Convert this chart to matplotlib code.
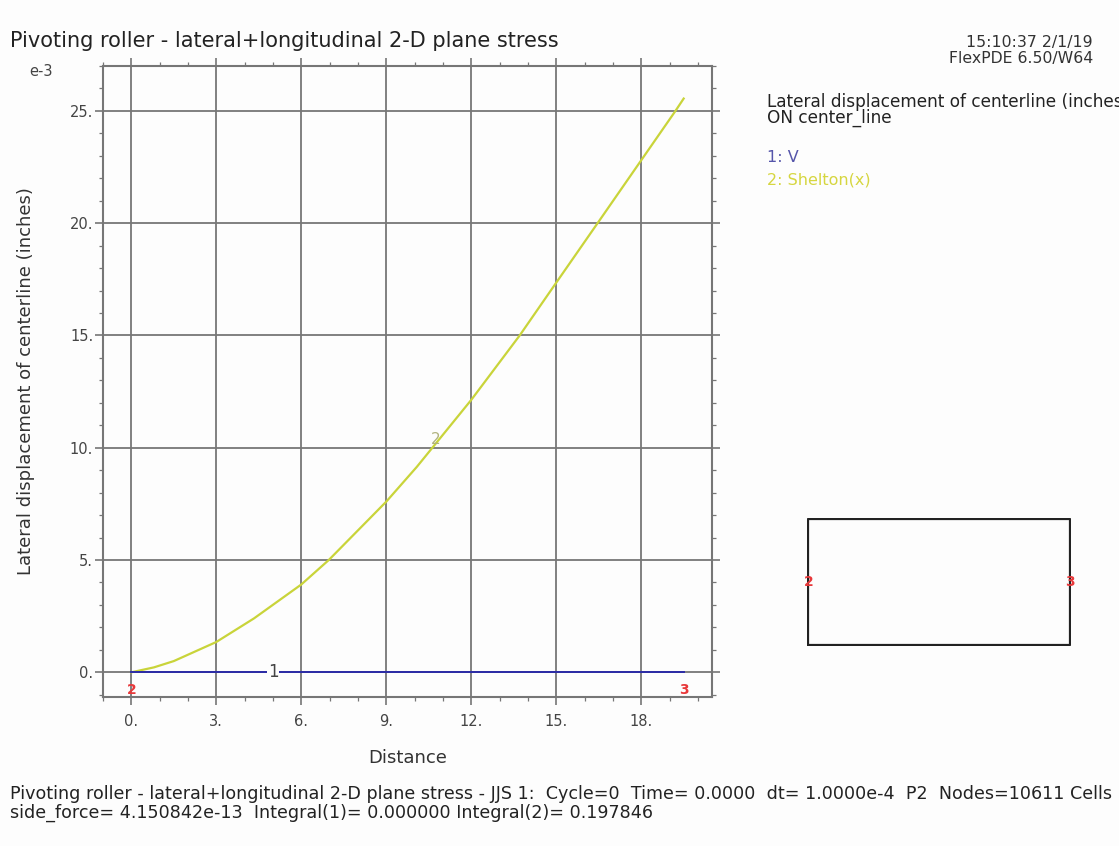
import matplotlib
matplotlib.use("Agg")
import matplotlib.pyplot as plt
from matplotlib.ticker import MultipleLocator, FuncFormatter

plt.rcParams['font.family'] = ['DejaVu Sans']

# === DATA (displacement in units of 1e-3 inch) ===
distance = [0, 0.8, 1.5, 3, 4.33, 6, 6.97, 9, 10.08, 10.66, 12, 13.71, 15, 16.46, 18, 19.21, 19.5]
shelton = [0, 0.22, 0.5, 1.35, 2.4, 3.91, 5.0, 7.6, 9.15, 10.05, 12.13, 15.0, 17.35, 20.0, 22.8, 25.0, 25.55]
v_dist = [0, 19.5]
v_vals = [0, 0]
x_ticks = [0, 3, 6, 9, 12, 15, 18]
y_ticks = [0, 5, 10, 15, 20, 25]

# domain outline for the small key plot
dom_x = [0, 19.5, 19.5, 0, 0]
dom_y = [0, 0, 9.3, 9.3, 0]

GRID = '#767676'
YELLOW = '#c9d43a'
BLUE = '#2b2ba6'
RED = '#e8383a'
BG = '#fdfdfd'

fig = plt.figure(figsize=(11.19, 8.46), dpi=100)
fig.patch.set_facecolor(BG)

ax = fig.add_axes([103 / 1119, 1 - 697 / 846, 609 / 1119, 631 / 846])
ax.set_facecolor(BG)
ax.plot(distance, shelton, color=YELLOW, lw=1.6, zorder=3)
ax.plot(v_dist, v_vals, color=BLUE, lw=1.4, zorder=3)

ax.set_xlim(-1.0, 20.5)
ax.set_ylim(-1.1, 27.0)
ax.set_xticks(x_ticks)
ax.set_yticks(y_ticks)
ax.xaxis.set_minor_locator(MultipleLocator(1))
ax.yaxis.set_minor_locator(MultipleLocator(1))
fmt = FuncFormatter(lambda v, p: f"{v:g}.")
ax.xaxis.set_major_formatter(fmt)
ax.yaxis.set_major_formatter(fmt)
ax.grid(True, which='major', color=GRID, lw=1.3, zorder=1)
ax.tick_params(which='major', direction='out', top=True, right=True,
               color=GRID, length=6, width=1.2, labelsize=10.5, labelcolor='#444444')
ax.tick_params(axis='x', pad=6)
ax.tick_params(axis='y', pad=1)
ax.tick_params(which='minor', direction='out', top=True, right=True,
               color=GRID, length=3, width=0.9)
for s in ax.spines.values():
    s.set_color(GRID)
    s.set_linewidth(1.5)

# curve number labels
ax.text(5.0, 0, '1', color='#444444', fontsize=12, ha='center', va='center', zorder=4,
        bbox=dict(facecolor=BG, edgecolor='none', pad=0.5))
ax.text(10.75, 10.35, '2', color='#b0b27e', fontsize=11, ha='center', va='center', zorder=4)
ax.text(v_dist[0], -0.8, '2', color=RED, fontsize=10, fontweight='bold', ha='center', va='center')
ax.text(v_dist[-1], -0.8, '3', color=RED, fontsize=10, fontweight='bold', ha='center', va='center')

ax.set_xlabel('Distance', fontsize=13, color='#333333')
ax.xaxis.set_label_coords(0.5, -0.082)
ax.set_ylabel('Lateral displacement of centerline (inches)', fontsize=13, color='#333333')
ax.yaxis.set_label_coords(-0.112, 0.5)
fig.text(29 / 1119, 1 - 72 / 846, 'e-3', fontsize=10.5, color='#444444', va='center')

# header texts
fig.text(10 / 1119, 1 - 41 / 846, 'Pivoting roller - lateral+longitudinal 2-D plane stress',
         fontsize=15, color='#222222', va='center')
fig.text(1093 / 1119, 1 - 42 / 846, '15:10:37 2/1/19', fontsize=11.3, color='#333333', ha='right', va='center')
fig.text(1093 / 1119, 1 - 58 / 846, 'FlexPDE 6.50/W64', fontsize=11.3, color='#333333', ha='right', va='center')
fig.text(767 / 1119, 1 - 102 / 846, 'Lateral displacement of centerline (inches)', fontsize=12.2,
         color='#222222', va='center')
fig.text(767 / 1119, 1 - 118 / 846, 'ON center_line', fontsize=12.2, color='#222222', va='center')
fig.text(767 / 1119, 1 - 157 / 846, '1: V', fontsize=11.5, color='#5555aa', va='center')
fig.text(767 / 1119, 1 - 180 / 846, '2: Shelton(x)', fontsize=11.5, color='#d6d640', va='center')

# footer
fig.text(10 / 1119, 1 - 794 / 846,
         'Pivoting roller - lateral+longitudinal 2-D plane stress - JJS 1:  Cycle=0  Time= 0.0000  '
         'dt= 1.0000e-4  P2  Nodes=10611 Cells',
         fontsize=12.6, color='#222222', va='center')
fig.text(10 / 1119, 1 - 813 / 846, 'side_force= 4.150842e-13  Integral(1)= 0.000000 Integral(2)= 0.197846',
         fontsize=12.6, color='#222222', va='center')

# small domain key
ax2 = fig.add_axes([807 / 1119, 1 - 646 / 846, 264 / 1119, 128 / 846])
ax2.plot(dom_x, dom_y, color='#222222', lw=1.6)
ax2.set_xlim(-0.1, 19.6)
ax2.set_ylim(-0.1, 9.4)
ax2.axis('off')
ax2.text(dom_x[0], dom_y[2] / 2, '2', color=RED, fontsize=10, fontweight='bold', ha='center', va='center')
ax2.text(dom_x[1], dom_y[2] / 2, '3', color=RED, fontsize=10, fontweight='bold', ha='center', va='center')

fig.savefig('out.png', dpi=100, facecolor=fig.get_facecolor())
